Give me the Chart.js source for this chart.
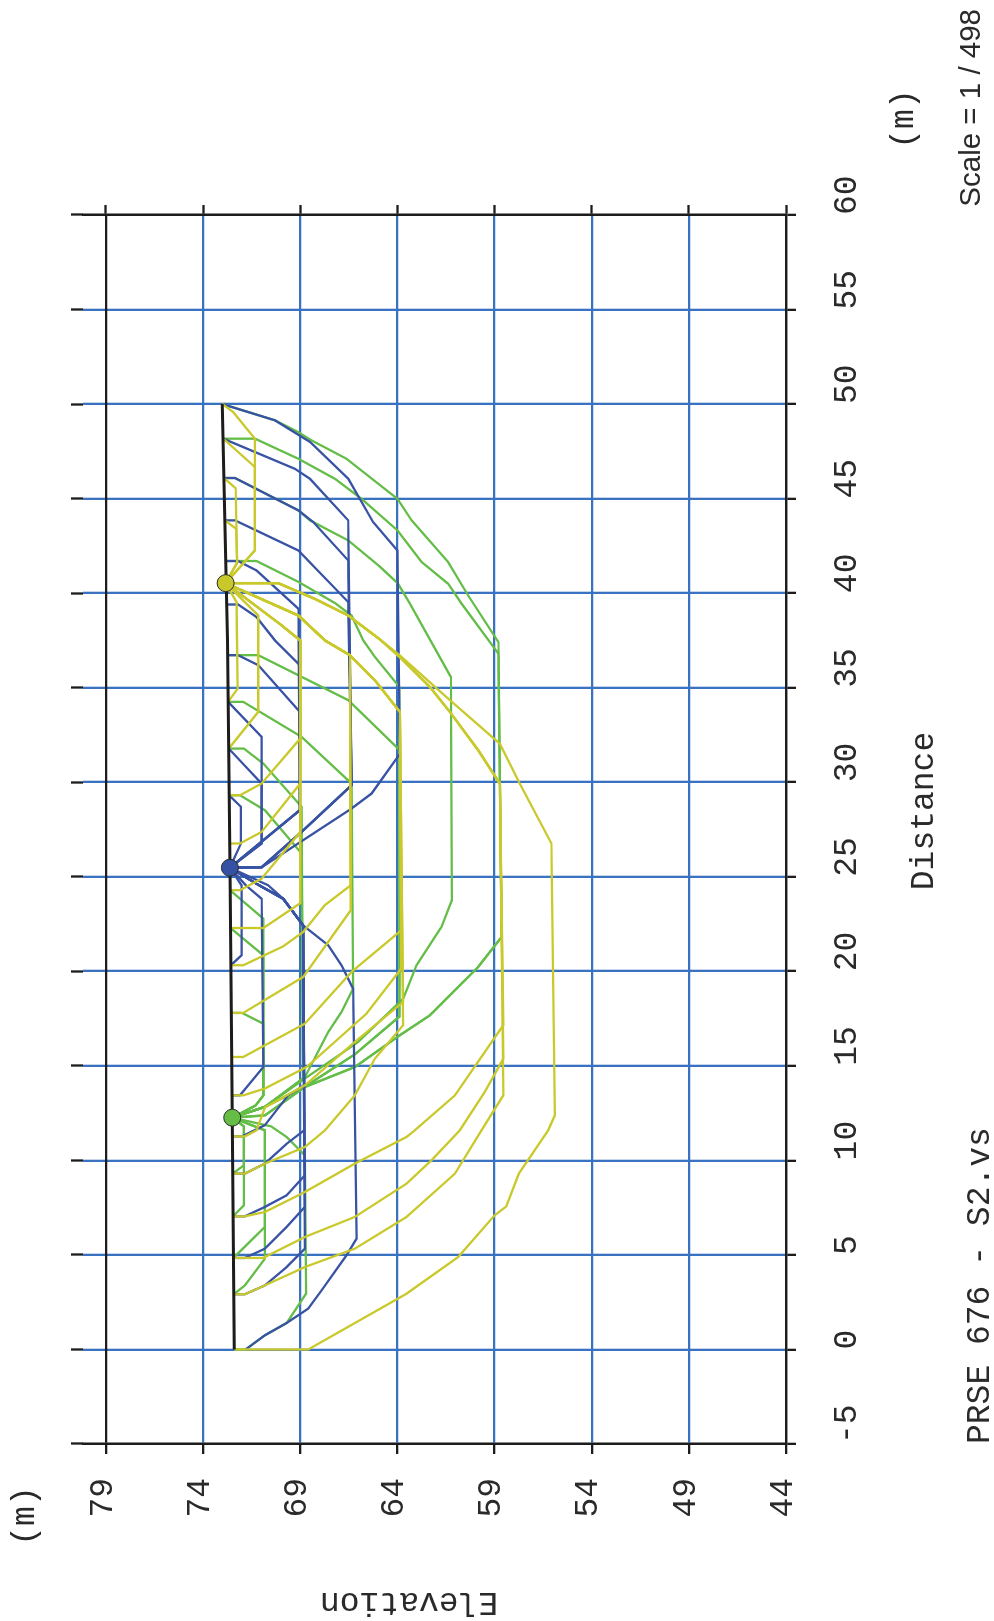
<!DOCTYPE html>
<html>
<head>
<meta charset="utf-8">
<title>PRSE 676 - S2.vs</title>
<script src="https://cdn.jsdelivr.net/npm/chart.js@4.4.1/dist/chart.umd.min.js"></script>
<style>
  html, body { margin: 0; padding: 0; background: #fff; overflow: hidden; }
  body { width: 994px; height: 1621px; position: relative; }
  /* the section is drawn landscape, then turned a quarter to fit the sheet */
  #sheet { position: absolute; left: 0; top: 0; width: 1621px; height: 994px;
           transform-origin: 0 0; transform: translate(0, 1621px) rotate(-90deg); }
</style>
</head>
<body>
<div id="sheet"><canvas id="section" width="1621" height="994"></canvas></div>
<script>
// axis ticks (m)
const distTicks = [-5, 0, 5, 10, 15, 20, 25, 30, 35, 40, 45, 50, 55, 60];
const elevTicks = [44, 49, 54, 59, 64, 69, 74, 79];

// ground surface [distance, elevation]
const groundProfile = [[0, 72.40], [12.26, 72.50], [25.48, 72.62], [37.5, 72.74], [50, 73.01]];

// centre points of each family of trial surfaces
const blueCentre = [25.48, 72.62];
const greenCentre = [12.26, 72.50];
const yellowCentre = [40.53, 72.84];

// trial slip surfaces [distance, elevation]
const blueSurfaces = [
  [[25.48,72.62],[25.5,70.99],[28.61,66.36],[29.4,65.33],[31.5,63.87],[42.26,64.0],[43.76,65.25],[46.05,66.53],[48.0,68.5],[49.14,70.3],[50,73.01]],
  [[25.48,72.62],[25.5,70.99],[27.37,68.93],[29.84,66.36],[43.85,66.53],[46.05,68.5],[46.58,69.28],[48.17,72.96]],
  [[25.48,72.62],[25.5,70.99],[27.37,68.93],[29.84,66.36],[41.73,66.53],[43.76,68.33],[44.38,69.1],[46.09,72.36],[46.09,72.92]],
  [[25.48,72.62],[25.5,70.99],[27.37,68.93],[29.84,66.36],[39.53,66.53],[42.26,69.1],[43.85,72.36],[43.85,72.87]],
  [[25.48,72.62],[28.52,69.02],[39.18,69.1],[41.2,71.25],[41.7,72.2],[41.7,72.83]],
  [[25.48,72.62],[28.52,69.02],[36.19,69.02],[37.5,70.3],[38.74,71.25],[39.4,72.2],[39.4,72.78]],
  [[25.48,72.62],[28.52,69.02],[33.72,69.02],[36.19,71.16],[36.72,72.2],[36.72,72.73]],
  [[25.48,72.62],[26.76,70.99],[32.4,70.99],[34.25,72.71]],
  [[25.48,72.62],[26.76,70.99],[29.93,70.99],[31.78,72.68]],
  [[25.48,72.62],[26.76,72.05],[28.7,72.05],[29.31,72.66]],
  [[25.48,72.62],[24.55,70.65],[23.84,69.88],[22.43,68.85],[21.38,67.56],[20.32,66.88],[19.08,66.28],[5.86,66.1],[4.98,66.62],[3.13,67.9],[2.16,68.59],[1.4,69.7],[0.75,70.82],[0,71.81]],
  [[25.48,72.62],[24.6,71.2],[23.84,69.88],[22.43,68.85],[13.97,68.8],[13.44,69.62],[11.86,70.82],[11.27,72.0],[11.27,72.49]],
  [[25.48,72.62],[24.6,71.2],[23.84,69.88],[22.43,68.85],[11.59,68.8],[10.88,69.7],[9.83,70.82],[9.3,71.85],[9.3,72.48]],
  [[25.48,72.62],[24.6,71.2],[23.84,69.88],[22.43,68.85],[9.21,68.76],[8.15,69.7],[7.54,70.82],[7.04,71.85],[7.04,72.46]],
  [[25.48,72.62],[24.6,71.2],[23.84,69.88],[22.43,68.85],[7.54,68.76],[6.48,69.7],[5.33,70.82],[4.84,71.85],[4.84,72.44]],
  [[25.48,72.62],[24.6,71.2],[23.84,69.88],[22.43,68.85],[5.33,68.76],[4.36,69.7],[3.39,70.82],[2.92,71.85],[2.92,72.42]],
  [[25.48,72.62],[24.55,71.8],[23.84,70.99],[14.94,70.9],[13.44,72.1],[13.44,72.51]],
  [[25.48,72.62],[24.55,72.02],[20.85,72.02],[20.32,72.57]]
];

const greenSurfaces = [
  [[12.26,72.5],[12.38,70.82],[13.88,68.76],[14.94,66.19],[16.62,63.87],[17.67,62.33],[20.23,59.84],[21.82,58.64],[37.41,58.8],[39.88,60.36],[41.65,61.39],[43.85,63.27],[44.99,64.0],[47.11,66.62],[48.08,68.42],[48.52,69.1],[49.14,70.3],[50,73.01]],
  [[12.26,72.5],[12.38,70.82],[13.88,68.76],[14.94,66.19],[16.62,63.87],[17.67,62.33],[20.23,59.84],[21.82,58.64],[36.8,58.8],[39.45,60.7],[40.5,61.39],[41.65,62.76],[43.32,64.0],[44.99,65.85],[46.05,67.22],[47.11,69.1],[48.17,71.33],[48.17,72.96]],
  [[12.26,72.5],[12.83,70.82],[14.33,68.76],[16.26,66.02],[18.56,63.7],[20.32,63.02],[22.35,61.73],[23.76,61.2],[35.57,61.25],[39.46,63.36],[40.52,63.98],[41.4,64.9],[42.79,66.53],[43.85,68.5],[44.38,69.1],[46.09,72.36],[46.09,72.92]],
  [[12.26,72.5],[12.83,70.82],[13.9,68.76],[15.6,66.2],[17.6,63.9],[35.04,63.9],[36.63,65.16],[37.5,65.76],[38.82,66.36],[39.48,67.22],[40.6,69.1],[41.7,71.25],[41.7,72.83]],
  [[12.26,72.5],[12.83,70.82],[13.9,68.76],[15.6,66.2],[17.6,63.9],[31.69,63.87],[34.34,66.53],[36.72,71.16],[36.72,72.73]],
  [[12.26,72.5],[12.83,70.82],[14.41,68.76],[16.79,67.56],[17.85,66.88],[19.08,66.28],[29.93,66.36],[32.4,68.93],[34.25,71.93],[34.25,72.71]],
  [[12.26,72.5],[12.83,70.82],[14.33,68.85],[28.7,68.93],[30.99,70.9],[31.78,71.9],[31.78,72.68]],
  [[12.26,72.5],[12.83,70.82],[14.33,68.85],[26.23,68.93],[28.52,70.82],[29.31,72.1],[29.31,72.66]],
  [[12.26,72.5],[12.9,71.3],[13.44,70.9],[22.79,70.9],[24.29,72.61]],
  [[12.26,72.5],[12.9,71.3],[13.44,70.9],[20.85,70.9],[22.29,72.59]],
  [[12.26,72.5],[12.9,71.3],[13.44,70.9],[17.23,70.9],[17.8,72.0],[17.8,72.55]],
  [[12.26,72.5],[11.8,71.9],[7.62,71.9],[7.04,72.46]],
  [[12.26,72.5],[11.8,71.9],[9.74,71.9],[9.3,72.48]],
  [[12.26,72.5],[11.59,70.82],[6.48,70.82],[4.84,72.44]],
  [[12.26,72.5],[11.59,70.82],[4.8,70.82],[3.39,71.85],[2.92,72.42]],
  [[12.26,72.5],[11.8,70.5],[11.24,69.7],[10.27,68.76],[2.95,68.7],[1.4,69.7],[0.75,70.82],[0,71.81],[0,72.4]]
];

const yellowSurfaces = [
  [[40.53,72.84],[42.26,71.33],[48.17,71.33],[49.58,72.45],[50,73.01]],
  [[40.53,72.84],[42.26,71.33],[46.67,71.33],[48.17,72.96]],
  [[40.53,72.84],[41.6,72.25],[45.55,72.33],[46.09,72.92]],
  [[40.53,72.84],[41.6,72.25],[43.4,72.3],[43.85,72.87]],
  [[40.53,72.84],[39.53,72.28],[34.95,72.22],[34.25,72.71]],
  [[40.53,72.84],[38.82,71.16],[33.72,71.16],[31.78,72.68]],
  [[40.53,72.84],[38.3,69.96],[37.5,69.0],[32.31,69.0],[29.93,70.99],[29.31,72.1],[29.31,72.66]],
  [[40.53,72.84],[38.3,69.96],[37.5,69.0],[29.93,69.0],[27.37,70.99],[26.76,72.1],[26.76,72.63]],
  [[40.53,72.84],[38.3,69.96],[37.5,69.0],[27.37,69.0],[24.9,70.99],[24.29,72.1],[24.29,72.61]],
  [[40.53,72.84],[38.3,69.96],[37.5,69.0],[23.6,69.0],[22.29,70.9],[22.29,72.59]],
  [[40.53,72.84],[38.82,69.1],[37.5,67.73],[36.72,66.45],[24.55,66.4],[23.5,67.73],[22.08,68.85],[21.32,69.88],[20.32,71.93],[20.32,72.57]],
  [[40.53,72.84],[38.82,69.1],[37.5,67.73],[36.72,66.45],[23.23,66.4],[19.7,68.85],[17.8,71.93],[17.8,72.55]],
  [[40.53,72.84],[38.82,69.1],[37.5,67.73],[36.72,66.45],[35.39,65.16],[33.72,63.87],[22.17,63.8],[19.97,66.36],[17.23,68.76],[15.47,71.93],[15.47,72.53]],
  [[40.53,72.84],[38.82,69.1],[37.5,67.73],[36.72,66.45],[35.39,65.16],[33.72,63.87],[20.14,63.8],[17.76,65.59],[14.94,68.67],[13.8,70.82],[13.44,71.93],[13.44,72.51]],
  [[40.53,72.84],[38.82,69.1],[37.5,67.73],[36.72,66.45],[35.39,65.16],[33.72,63.87],[18.38,63.7],[16.26,66.19],[13.97,68.76],[12.8,70.82],[11.59,71.25],[11.27,71.85],[11.27,72.49]],
  [[40.53,72.84],[38.82,69.1],[37.5,67.73],[36.72,66.45],[35.39,65.16],[33.72,63.87],[17.15,63.7],[15.38,65.16],[13.44,66.19],[11.59,67.73],[10.71,68.76],[9.83,70.82],[9.3,71.85],[9.3,72.48]],
  [[40.53,72.84],[40.53,70.13],[39.7,68.25],[38.82,66.53],[37.55,64.9],[36.62,63.88],[35.04,62.33],[33.72,61.3],[31.69,59.84],[29.93,58.73],[17.15,58.55],[13.44,61.04],[11.59,63.1],[11.24,63.53],[9.83,66.19],[8.33,68.76],[7.27,70.82],[7.04,71.85],[7.04,72.46]],
  [[40.53,72.84],[40.53,70.13],[39.7,68.25],[38.82,66.53],[37.55,64.9],[36.62,63.88],[35.04,62.33],[33.72,61.3],[31.69,59.84],[29.93,58.73],[15.38,58.55],[13.62,59.5],[11.59,60.79],[10.0,62.25],[8.77,63.53],[7.01,66.19],[5.95,68.76],[4.89,70.82],[4.84,71.85],[4.84,72.44]],
  [[40.53,72.84],[40.53,70.13],[39.7,68.25],[38.82,66.53],[37.55,64.9],[36.62,63.88],[35.04,62.33],[33.72,61.3],[31.69,59.84],[29.93,58.73],[13.44,58.55],[11.59,59.67],[9.3,61.04],[7.01,63.53],[5.33,66.19],[4.36,68.76],[3.39,70.82],[2.92,71.85],[2.92,72.42]],
  [[40.53,72.84],[40.53,70.13],[39.7,68.25],[38.82,66.53],[37.55,64.9],[36.71,63.88],[34.5,61.47],[32.04,58.73],[29.93,57.7],[26.76,56.07],[12.38,55.9],[11.59,56.24],[9.3,57.75],[7.57,58.39],[7.1,58.99],[4.89,60.87],[2.95,63.53],[0,68.59],[0,72.4]]
];

const INK = '#1c1c1c';
const TXT = '#2a2a2a';
const GRID = '#3a72c2';
const BLUE = '#3852a4';
const GREEN = '#63bd47';
const YELLOW = '#c9c92c';
const MONO = '"Liberation Mono", "DejaVu Sans Mono", monospace';

function toXY(pts) {
  return pts.map(p => ({ x: p[0], y: p[1] }));
}

function surfaceSets(list, color, order) {
  return list.map(pts => ({
    data: toXY(pts), showLine: true, borderColor: color, borderWidth: 2.3,
    pointRadius: 0, pointHoverRadius: 0, fill: false, order: order
  }));
}

function centreSet(pt, color) {
  return {
    data: toXY([pt]), showLine: false, pointRadius: 8.5, pointHoverRadius: 8.5,
    pointBackgroundColor: color, pointBorderColor: '#2b2b2b', pointBorderWidth: 1, order: 0
  };
}

const fixedTicks = list => scale => { scale.ticks = list.map(v => ({ value: v })); };
const edgeColor = (a, b) => ctx => (ctx.tick && (ctx.tick.value === a || ctx.tick.value === b)) ? INK : GRID;

// texts around the frame (landscape coordinates)
const sheetText = {
  id: 'sheetText',
  afterDraw(chart) {
    const ctx = chart.ctx;
    ctx.save();
    ctx.fillStyle = TXT;
    ctx.font = `33px ${MONO}`;
    ctx.textBaseline = 'alphabetic';
    ctx.textAlign = 'center';
    ctx.fillText('Distance', 810, 933);
    ctx.textBaseline = 'middle';
    ctx.fillText('(m)', 1502, 904);
    ctx.fillText('(m)', 105, 25);
    ctx.textBaseline = 'alphabetic';
    ctx.textAlign = 'left';
    ctx.fillText('PRSE 676 - S2.vs', 177, 989);
    ctx.save();
    ctx.translate(28, 409);
    ctx.rotate(-Math.PI / 2);
    ctx.textAlign = 'center';
    ctx.fillText('Elevation', 0, 0);
    ctx.restore();
    ctx.font = '29.5px "Liberation Sans", Arial, sans-serif';
    ctx.textAlign = 'right';
    ctx.fillText('Scale = 1 / 498', 1612, 980);
    ctx.restore();
  }
};

const datasets = [
  ...surfaceSets(greenSurfaces, GREEN, 4),
  ...surfaceSets(blueSurfaces, BLUE, 3),
  ...surfaceSets(yellowSurfaces, YELLOW, 2),
  { data: toXY(groundProfile), showLine: true, borderColor: INK, borderWidth: 3, pointRadius: 0, pointHoverRadius: 0, order: 1 },
  centreSet(blueCentre, '#3451a3'),
  centreSet(greenCentre, '#66bd45'),
  centreSet(yellowCentre, '#c8c82a')
];

new Chart(document.getElementById('section'), {
  type: 'scatter',
  data: { datasets },
  plugins: [sheetText],
  options: {
    responsive: false,
    devicePixelRatio: 1,
    animation: false,
    events: [],
    layout: { padding: { top: 71, left: 0, right: 0, bottom: 0 } },
    plugins: { legend: { display: false }, tooltip: { enabled: false } },
    scales: {
      x: {
        type: 'linear', position: 'bottom', min: -5, max: 60,
        afterBuildTicks: fixedTicks(distTicks),
        afterFit: s => { s.height = 208; },
        grid: { color: edgeColor(-5, 60), lineWidth: 2.3, tickLength: 10, tickColor: INK, tickWidth: 2.3 },
        border: { color: INK, width: 2.3 },
        ticks: { align: 'start', padding: 31, maxRotation: 0, minRotation: 0, autoSkip: false,
                 color: TXT, font: { family: MONO, size: 33 }, callback: v => String(v) }
      },
      x2: {
        type: 'linear', position: 'top', min: -5, max: 60,
        afterBuildTicks: fixedTicks(distTicks),
        afterFit: s => { s.height = 12; },
        grid: { drawOnChartArea: false, tickLength: 12, tickColor: INK, tickWidth: 2.3 },
        border: { display: false },
        ticks: { display: false }
      },
      y: {
        type: 'linear', position: 'left', min: 44, max: 80.18,
        afterBuildTicks: fixedTicks(elevTicks),
        afterFit: s => { s.width = 177; },
        grid: { color: edgeColor(44, 79), lineWidth: 2.3, tickLength: 10, tickColor: INK, tickWidth: 2.3 },
        border: { color: INK, width: 2.3 },
        ticks: { padding: 24, labelOffset: -3, color: TXT, font: { family: MONO, size: 33 }, callback: v => String(v) }
      },
      y2: {
        type: 'linear', position: 'right', min: 44, max: 80.18,
        afterBuildTicks: fixedTicks(elevTicks),
        afterFit: s => { s.width = 215; },
        grid: { drawOnChartArea: false, tickLength: 10, tickColor: INK, tickWidth: 2.3 },
        border: { color: INK, width: 2.3 },
        ticks: { display: false }
      }
    }
  }
});
</script>
</body>
</html>
